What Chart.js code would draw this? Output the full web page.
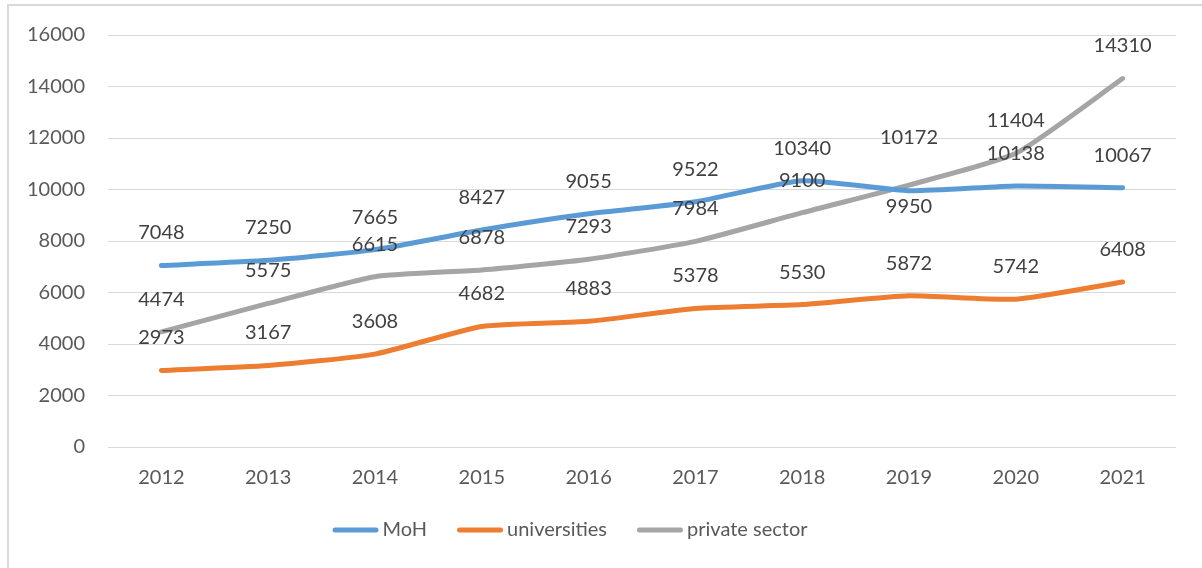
<!DOCTYPE html>
<html>
<head>
<meta charset="utf-8">
<script src="https://cdn.jsdelivr.net/npm/chart.js@4.4.1/dist/chart.umd.min.js"></script>
<style>
  html, body { margin: 0; padding: 0; background: #ffffff; }
  #wrap { position: relative; width: 1202px; height: 568px; }
</style>
</head>
<body>
<div id="wrap"><canvas id="c" width="1202" height="568"></canvas></div>
<script>
// ---- data ----
const years = ['2012', '2013', '2014', '2015', '2016', '2017', '2018', '2019', '2020', '2021'];
const moh = [7048, 7250, 7665, 8427, 9055, 9522, 10340, 9950, 10138, 10067];
const universities = [2973, 3167, 3608, 4682, 4883, 5378, 5530, 5872, 5742, 6408];
const privateSector = [4474, 5575, 6615, 6878, 7293, 7984, 9100, 10172, 11404, 14310];
const yTicks = [0, 2000, 4000, 6000, 8000, 10000, 12000, 14000, 16000];
const seriesNames = ['MoH', 'universities', 'private sector'];

// ---- style ----
const colors = ['#5b9bd5', '#ed7d31', '#a5a5a5'];
const FONT = 'Lato, "Open Sans", sans-serif';
const FS = 20;
// vertical label offsets (px) relative to point; default is above
const defaultLabelOffset = -32.5;
const labelOffsetOverrides = { '0-7': 16, '2-7': -48 };

const borderPlugin = {
  id: 'frame',
  beforeDraw(chart) {
    const ctx = chart.ctx;
    ctx.save();
    ctx.strokeStyle = '#d9d9d9';
    ctx.lineWidth = 2;
    ctx.beginPath();
    ctx.moveTo(8, 600);
    ctx.lineTo(8, 5);
    ctx.lineTo(1210, 5);
    ctx.stroke();
    ctx.restore();
  }
};

const labelPlugin = {
  id: 'valueLabels',
  afterDatasetsDraw(chart) {
    const ctx = chart.ctx;
    ctx.save();
    ctx.font = FS + 'px ' + FONT;
    ctx.fillStyle = '#404040';
    ctx.textAlign = 'center';
    ctx.textBaseline = 'middle';
    chart.data.datasets.forEach((ds, di) => {
      const meta = chart.getDatasetMeta(di);
      meta.data.forEach((pt, i) => {
        const key = di + '-' + i;
        const off = (key in labelOffsetOverrides) ? labelOffsetOverrides[key] : defaultLabelOffset;
        ctx.fillText(String(ds.data[i]), pt.x, pt.y + off);
      });
    });
    ctx.restore();
  }
};

const legendPlugin = {
  id: 'customLegend',
  afterDraw(chart) {
    const ctx = chart.ctx;
    ctx.save();
    ctx.font = FS + 'px ' + FONT;
    ctx.textBaseline = 'middle';
    ctx.textAlign = 'left';
    const lineLen = 46, gapText = 4, gapItem = 30, y = 530;
    const widths = chart.data.datasets.map(d => ctx.measureText(d.label).width);
    let total = 0;
    widths.forEach((w, i) => { total += lineLen + gapText + w + (i < widths.length - 1 ? gapItem : 0); });
    let x = 570 - total / 2;
    chart.data.datasets.forEach((d, i) => {
      ctx.strokeStyle = d.borderColor;
      ctx.lineWidth = 5;
      ctx.lineCap = 'round';
      ctx.beginPath();
      ctx.moveTo(x + 2.5, y);
      ctx.lineTo(x + lineLen - 2.5, y);
      ctx.stroke();
      ctx.fillStyle = '#595959';
      ctx.fillText(d.label, x + lineLen + gapText, y);
      x += lineLen + gapText + widths[i] + gapItem;
    });
    ctx.restore();
  }
};

const datasets = [moh, universities, privateSector].map((arr, i) => ({
  label: seriesNames[i],
  data: arr,
  borderColor: colors[i],
  backgroundColor: colors[i],
  borderWidth: 5,
  pointRadius: 0,
  pointHoverRadius: 0,
  tension: 0.18,
  borderCapStyle: 'round',
  borderJoinStyle: 'round',
  fill: false
}));

new Chart(document.getElementById('c'), {
  type: 'line',
  data: { labels: years, datasets: datasets },
  options: {
    responsive: false,
    animation: false,
    devicePixelRatio: 1,
    layout: { padding: { left: 8, right: 26, top: 34, bottom: 0 } },
    plugins: { legend: { display: false }, tooltip: { enabled: false } },
    scales: {
      x: {
        offset: true,
        grid: { display: false, drawTicks: false },
        border: { display: false },
        ticks: { color: '#595959', font: { family: FONT, size: FS }, padding: 19, maxRotation: 0 },
        afterFit(s) { s.height = 121; }
      },
      y: {
        min: 0, max: 16000,
        afterBuildTicks(s) { s.ticks = yTicks.map(v => ({ value: v })); },
        grid: { color: '#d9d9d9', lineWidth: 1, drawTicks: false },
        border: { display: false },
        ticks: { color: '#595959', font: { family: FONT, size: FS }, padding: 23,
                 callback: v => String(v) },
        afterFit(s) { s.width = 100; }
      }
    }
  },
  plugins: [borderPlugin, labelPlugin, legendPlugin]
});
</script>
</body>
</html>
